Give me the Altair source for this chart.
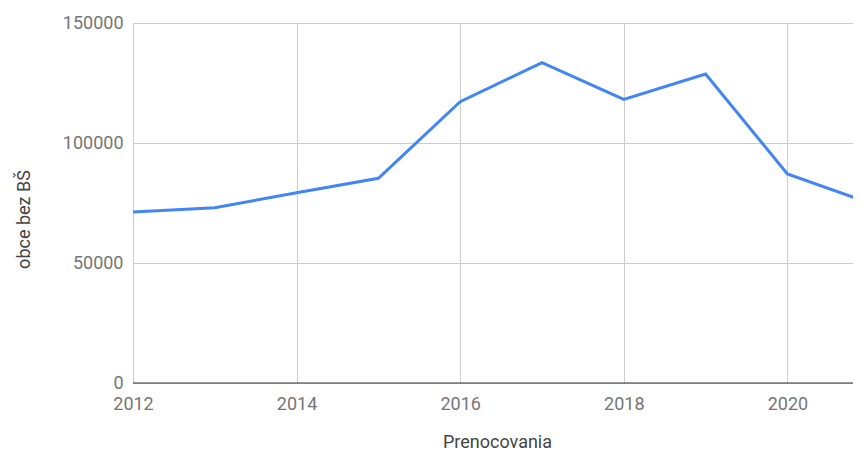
import altair as alt
import pandas as pd

years = [2012, 2013, 2014, 2015, 2016, 2017, 2018, 2019, 2020, 2021]
values = [71250, 73000, 79300, 85300, 117200, 133500, 118200, 128750, 87100, 75100]
x_ticks = [2012, 2014, 2016, 2018, 2020]
y_ticks = [0, 50000, 100000, 150000]

df = pd.DataFrame({"Prenocovania": years, "obce bez BŠ": values})

FONT = "Roboto"
LABEL = "#757575"
TITLE = "#444444"

line = alt.Chart(df).mark_line(color="#4285F4", strokeWidth=3, clip=True).encode(
    x=alt.X(
        "Prenocovania:Q",
        scale=alt.Scale(domain=[2012, 2020.802], nice=False, zero=False),
        axis=alt.Axis(
            values=x_ticks, format="d", ticks=False, domain=False,
            grid=True, gridColor="#cccccc", gridWidth=1,
            labelFont=FONT, labelFontSize=18, labelColor=LABEL,
            labelPadding=12, labelFlush=False, labelOverlap=False,
            title="Prenocovania", titleFont=FONT, titleFontSize=18,
            titleFontWeight="normal", titleColor=TITLE,
            titleX=364, titleY=64, titleBaseline="alphabetic",
        ),
    ),
    y=alt.Y(
        "obce bez BŠ:Q",
        scale=alt.Scale(domain=[0, 150000], nice=False),
        axis=alt.Axis(
            values=y_ticks, format="d", ticks=False, domain=False,
            grid=True, gridColor="#cccccc", gridWidth=1,
            labelFont=FONT, labelFontSize=18, labelColor=LABEL,
            labelPadding=10,
            title="obce bez BŠ", titleFont=FONT, titleFontSize=18,
            titleFontWeight="normal", titleColor=TITLE,
            titleX=-104, titleY=196, titleAngle=270, titleBaseline="alphabetic",
        ),
    ),
)

baseline = alt.Chart(pd.DataFrame({"y": [0]})).mark_rule(color="#333333", strokeWidth=1).encode(
    y=alt.Y("y:Q", scale=alt.Scale(domain=[0, 150000], nice=False)),
)

chart = alt.layer(line, baseline).properties(
    width=720,
    height=360,
    autosize=alt.AutoSizeParams(type="none"),
    padding={"left": 125, "top": 15, "right": 0, "bottom": 70},
).configure_view(stroke=None)

chart.save("out.html", embed_options={"renderer": "svg", "actions": False})
